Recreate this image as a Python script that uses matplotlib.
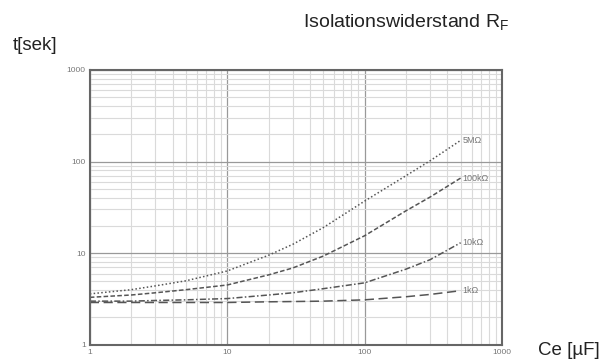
import matplotlib.pyplot as plt
import numpy as np

plt.rcParams['font.family'] = ['Liberation Sans', 'DejaVu Sans']

# Kapazität Ce [µF]
ce = [1, 2, 3, 5, 10, 20, 30, 50, 100, 200, 300, 500]

# Zeit t [sek] je Isolationswiderstand
t_5M = [3.6, 4.0, 4.4, 5.0, 6.4, 9.5, 12.5, 19, 37, 70, 102, 170]
t_100k = [3.3, 3.5, 3.7, 4.0, 4.5, 5.8, 6.9, 9.3, 15.5, 29, 41, 66]
t_10k = [3.0, 3.0, 3.05, 3.1, 3.2, 3.5, 3.7, 4.1, 4.75, 6.7, 8.5, 13]
t_1k = [2.9, 2.9, 2.9, 2.9, 2.9, 2.95, 2.97, 3.0, 3.1, 3.35, 3.55, 3.9]

labels = ["5M\u03a9", "100k\u03a9", "10k\u03a9", "1k\u03a9"]
series = [t_5M, t_100k, t_10k, t_1k]
styles = [(0, (1, 1.5)), (0, (3, 1.5)), (0, (4, 1.5, 1, 1.5)), (0, (6, 3))]

xticks = [1, 10, 100, 1000]
yticks = [1, 10, 100, 1000]

fig = plt.figure(figsize=(6.07, 3.6), dpi=100)
ax = fig.add_axes([0.148, 0.042, 0.679, 0.764])

lc = "#555555"
for t, lab, ls in zip(series, labels, styles):
    ax.plot(ce, t, color=lc, lw=1.1, linestyle=ls)
    ax.text(ce[-1] * 1.03, t[-1], lab, fontsize=6.5, color="#777777",
            va="center", ha="left")

ax.set_xscale("log")
ax.set_yscale("log")
ax.set_xlim(1, 1000)
ax.set_ylim(1, 1000)
ax.set_xticks(xticks)
ax.set_xticklabels([str(v) for v in xticks])
ax.set_yticks(yticks)
ax.set_yticklabels([str(v) for v in yticks])
ax.tick_params(which="both", length=0, labelsize=6, labelcolor="#777777", pad=3)
ax.grid(True, which="major", color="#999999", lw=0.9)
ax.grid(True, which="minor", color="#dadada", lw=0.8)
for s in ax.spines.values():
    s.set_color("#666666")
    s.set_linewidth(1.5)

fig.text(0.499, 0.922, "Isolationswiderstand R$_\\mathregular{F}$", fontsize=14,
         color="#222222", va="baseline")
fig.text(0.021, 0.861, "t[sek]", fontsize=13.5, color="#222222", va="baseline")
fig.text(0.886, 0.014, "Ce [\u00b5F]", fontsize=13.5, color="#222222", va="baseline")

fig.savefig("out.png", dpi=100)
